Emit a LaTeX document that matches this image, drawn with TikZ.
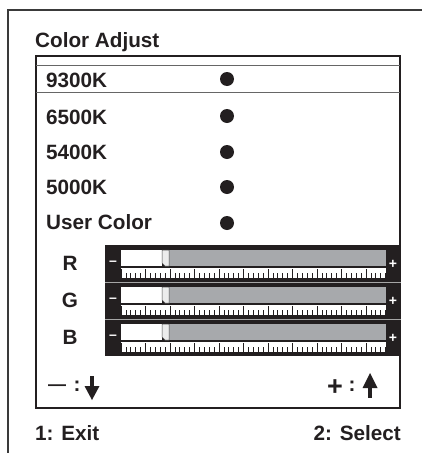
\documentclass[tikz,border=0pt]{standalone}
\usepackage{fontspec}
\setmainfont{Liberation Sans}
\definecolor{txt}{HTML}{231F20}
\definecolor{barg}{HTML}{A7A9AC}
\definecolor{framec}{HTML}{3A3A3A}
\begin{document}
\begin{tikzpicture}[x=1pt,y=-1pt,
  big/.style={font=\fontsize{20.7}{21}\selectfont\bfseries, inner sep=0pt, text=txt},
  lbl/.style={big, anchor=base west},
  dot/.style={circle, fill=txt, inner sep=0pt, minimum size=14pt},
  pm/.style={font=\fontsize{14}{14}\selectfont\bfseries, text=white, inner sep=0pt},
  sym/.style={font=\fontsize{27}{27}\selectfont\bfseries, inner sep=0pt, text=txt, anchor=center}]
\useasboundingbox (0,0) rectangle (422,453);
% outer open frame
\draw[framec, line width=1.2pt] (8,453) -- (8,10) -- (422,10);
% title
\node[lbl] (title) at (35,47) {Color Adjust};
% inner box
\draw[txt, line width=1.3pt] (36,56) rectangle (400,408);
% highlighted row
\draw[gray!80!black, line width=0.9pt] (36,65) -- (400,65);
\draw[gray!80!black, line width=0.9pt] (36,92) -- (400,92);
% rows
\node[lbl] (r1) at (46,87) {9300K};
\node[lbl] (r2) at (46,124) {6500K};
\node[lbl] (r3) at (46,159) {5400K};
\node[lbl] (r4) at (46,194) {5000K};
\node[lbl] (r5) at (46,229) {User Color};
\node[dot] (d1) at (227,79) {};
\node[dot] (d2) at (227,116) {};
\node[dot] (d3) at (227,152) {};
\node[dot] (d4) at (227,187) {};
\node[dot] (d5) at (227,223) {};
% slider bars
\fill[txt] (105,245) rectangle (401,356);
\draw[gray!70, line width=0.6pt] (105,282) -- (401,282);
\draw[gray!70, line width=0.6pt] (105,319) -- (401,319);
\foreach \o/\n in {0/R,37/G,74/B}{
  \node[big, anchor=base] (lab\n) at (70,270+\o) {\n};
  \fill[white] (121,250+\o) rectangle (162,266+\o);
  \fill[barg] (169,250+\o) rectangle (386,266+\o);
  \filldraw[fill=gray!15, draw=gray!60!black, line width=0.5pt]
    (162,250+\o) -- (169,250+\o) -- (169,266+\o) -- (165,266+\o) -- (162,263+\o) -- cycle;
  \fill[white] (121,268+\o) rectangle (386,278+\o);
  \foreach \k in {0,...,54}{
    \draw[txt, line width=0.7pt] ({121+\k*4.9},278+\o) -- ({121+\k*4.9},273+\o);
  }
  \foreach \k in {0,5,...,50}{
    \draw[txt, line width=0.9pt] ({121+\k*4.9},278+\o) -- ({121+\k*4.9},269+\o);
  }
  \node[pm] (mi\n) at (113,263+\o) {–};
  \node[pm] (pl\n) at (393,264+\o) {+};
}
% bottom controls
\node[font=\fontsize{18}{18}\selectfont\bfseries, text=txt, inner sep=0pt] (minus) at (57,388) {—};
\node[big] (c1) at (77,386) {:};
\fill[txt] (90,376) rectangle (94,388);
\fill[txt] (84.5,386) -- (99.5,386) -- (92,400) -- cycle;
\node[sym] (plus) at (335,388) {+};
\node[big] (c2) at (352,386) {:};
\fill[txt] (368,386) rectangle (372,398);
\fill[txt] (362.5,388) -- (377.5,388) -- (370,373) -- cycle;
% footer
\node[lbl] (exit) at (35,440) {1: Exit};
\node[big, anchor=base east] (sel) at (401,440) {2: Select};
\end{tikzpicture}
\end{document}
